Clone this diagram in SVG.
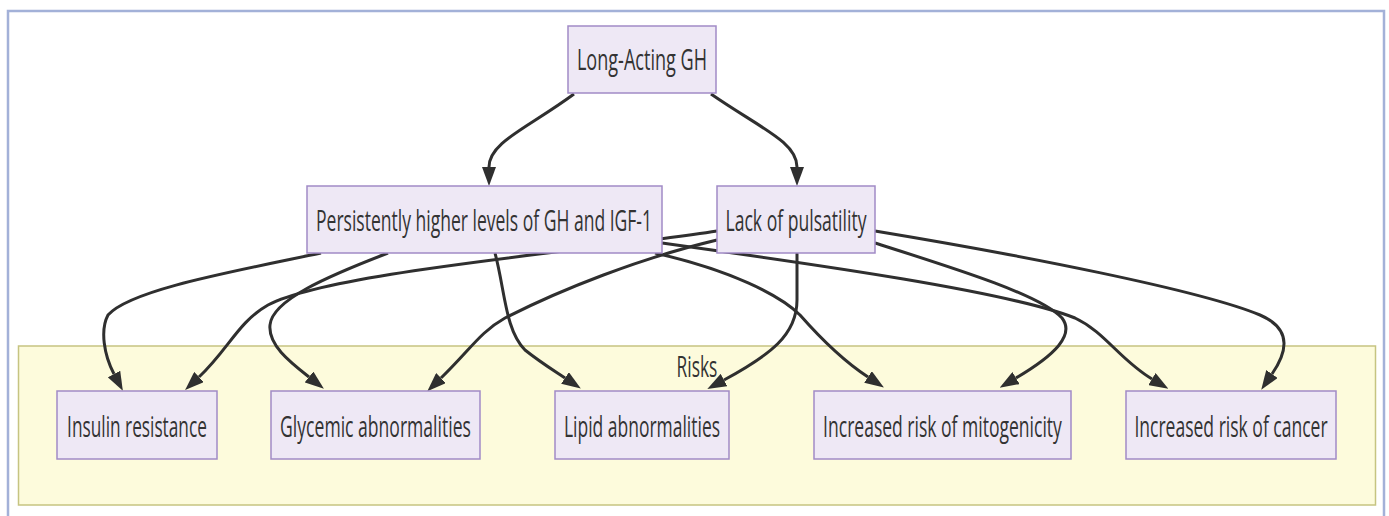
<svg xmlns="http://www.w3.org/2000/svg" width="1389" height="516" viewBox="0 0 1389 516">
<style>
.frame{fill:none;stroke:#a3b1d8;stroke-width:2.5}
.cluster rect{fill:#fdfbdc;stroke:#c6c481;stroke-width:1.5}
.node rect{fill:#eee8f5;stroke:#a18bc6;stroke-width:1.5}
text{font-family:"Open Sans","Noto Sans","DejaVu Sans",sans-serif;font-size:29px;fill:#333;text-anchor:middle}
.edges path{fill:none;stroke:#2f2f2f;stroke-width:3;marker-end:url(#arrow)}
</style>
<defs>
<marker id="arrow" markerUnits="userSpaceOnUse" markerWidth="19" markerHeight="14" refX="0" refY="7" orient="auto">
<path d="M0,0 L19,7 L0,14 z" fill="#2f2f2f"/>
</marker>
</defs>
<rect x="0" y="0" width="1389" height="516" fill="#ffffff"/>
<path class="frame" d="M8,518 V11 H1384 V518"/>
<g id="cluster-risks" class="cluster">
<rect x="18.5" y="346" width="1357" height="159"/>
<text transform="translate(697,377) scale(0.6,1)" textLength="68" lengthAdjust="spacingAndGlyphs">Risks</text>
</g>
<g id="edges" class="edges">
<path d="M574,94 C528,128 489,142 489,167"/>
<path d="M711,94 C760,128 797,142 797,167"/>
<path d="M321,253 C230,272 130,290 108,315 C100,330 104,355 114,374"/>
<path d="M388,253 C328,276 272,300 270,325 C268,345 290,362 309,377"/>
<path d="M495,253 C505,290 505,330 525,350 C540,362 553,370 565,378"/>
<path d="M655,253 C730,270 780,295 800,315 C822,340 845,362 868,377"/>
<path d="M662,243 C820,265 1010,292 1075,318 C1105,332 1120,360 1152,379"/>
<path d="M717,231 C580,252 330,272 268,305 C238,322 228,350 199,377"/>
<path d="M717,240 C640,258 560,290 505,318 C480,332 470,350 441,378"/>
<path d="M797,253 L797,300 C797,335 770,355 724,380"/>
<path d="M875,243 C960,270 1040,295 1062,318 C1075,335 1055,355 1016,378"/>
<path d="M875,231 C1020,255 1200,290 1260,315 C1295,330 1285,355 1272,374"/>
</g>
<g id="node-long-acting" class="node">
<rect x="568" y="26" width="148" height="67"/>
<text transform="translate(642,70) scale(0.6,1)" textLength="217" lengthAdjust="spacingAndGlyphs">Long-Acting GH</text>
</g>
<g id="node-persistently" class="node">
<rect x="307" y="186" width="355" height="67"/>
<text transform="translate(484,231) scale(0.6,1)" textLength="560" lengthAdjust="spacingAndGlyphs">Persistently higher levels of GH and IGF-1</text>
</g>
<g id="node-lack" class="node">
<rect x="717" y="186" width="158" height="67"/>
<text transform="translate(796,231) scale(0.6,1)" textLength="235" lengthAdjust="spacingAndGlyphs">Lack of pulsatility</text>
</g>
<g id="node-insulin" class="node">
<rect x="57" y="391" width="160" height="68"/>
<text transform="translate(137,437) scale(0.6,1)" textLength="233" lengthAdjust="spacingAndGlyphs">Insulin resistance</text>
</g>
<g id="node-glycemic" class="node">
<rect x="271" y="391" width="209" height="68"/>
<text transform="translate(375.5,437) scale(0.6,1)" textLength="318" lengthAdjust="spacingAndGlyphs">Glycemic abnormalities</text>
</g>
<g id="node-lipid" class="node">
<rect x="555" y="391" width="174" height="68"/>
<text transform="translate(642,437) scale(0.6,1)" textLength="260" lengthAdjust="spacingAndGlyphs">Lipid abnormalities</text>
</g>
<g id="node-mitogenicity" class="node">
<rect x="814" y="391" width="257" height="68"/>
<text transform="translate(942.5,437) scale(0.6,1)" textLength="398" lengthAdjust="spacingAndGlyphs">Increased risk of mitogenicity</text>
</g>
<g id="node-cancer" class="node">
<rect x="1126" y="391" width="210" height="68"/>
<text transform="translate(1231,437) scale(0.6,1)" textLength="322" lengthAdjust="spacingAndGlyphs">Increased risk of cancer</text>
</g>
</svg>
